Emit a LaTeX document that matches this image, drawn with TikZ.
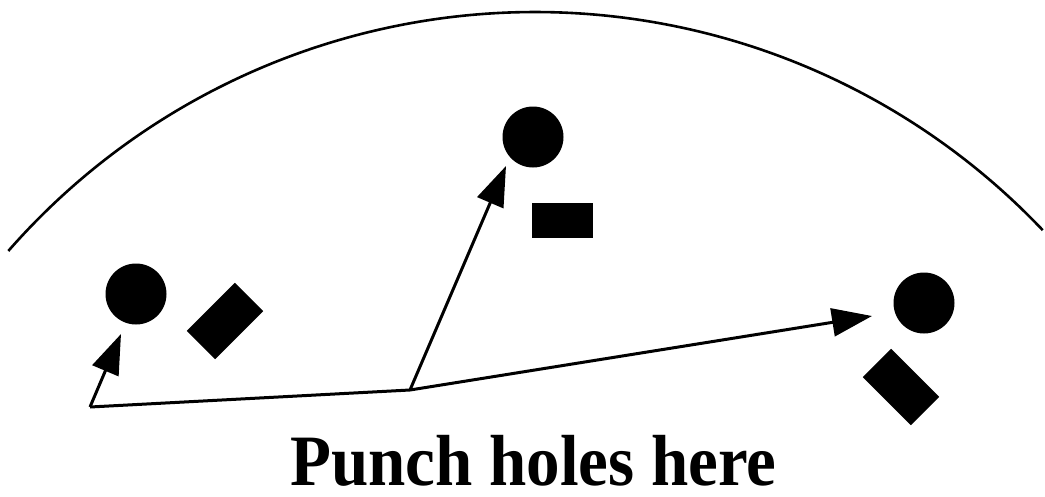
\documentclass[tikz,border=0pt]{standalone}
\usepackage{fontspec}
\setmainfont{Liberation Serif}
\usetikzlibrary{arrows.meta}
\begin{document}
\begin{tikzpicture}[x=1pt,y=-1pt,
  hole/.style={circle,fill=black,draw=none,minimum size=61pt,inner sep=0pt},
  slot/.style={rectangle,fill=black,draw=none,inner sep=0pt},
  conn/.style={line width=3pt,line cap=butt},
  arr/.style={conn,-{Triangle[length=40pt,width=28pt]}}]
\useasboundingbox (0,0) rectangle (1045,496);
% outer edge
\draw[line width=2.6pt] (535,712) ++(221.2:700) arc[start angle=221.2,end angle=316.5,radius=700];
% holes
\node[hole] (hL) at (136,294) {};
\node[hole] (hM) at (533,137) {};
\node[hole] (hR) at (924,303) {};
% slots
\node[slot,minimum width=68pt,minimum height=40pt,rotate=45] (sL) at (225,321) {};
\node[slot,minimum width=61pt,minimum height=35pt] (sM) at (562.5,220.5) {};
\node[slot,minimum width=68pt,minimum height=40pt,rotate=-45] (sR) at (901,387) {};
% connectors
\coordinate (c) at (90,407);
\coordinate (j) at (410,390);
\coordinate (tL) at (121,334);
\coordinate (tM) at (506,166);
\coordinate (tR) at (872,316);
\draw[conn] (c) -- (j);
\draw[arr] (c) -- (tL);
\draw[arr] (j) -- (tM);
\draw[arr] (j) -- (tR);
% label
\node[anchor=base west,inner sep=0pt] (lab) at (290,485)
  {\scalebox{1}[1.08]{\fontsize{67pt}{70pt}\selectfont\bfseries Punch holes here}};
\end{tikzpicture}
\end{document}
